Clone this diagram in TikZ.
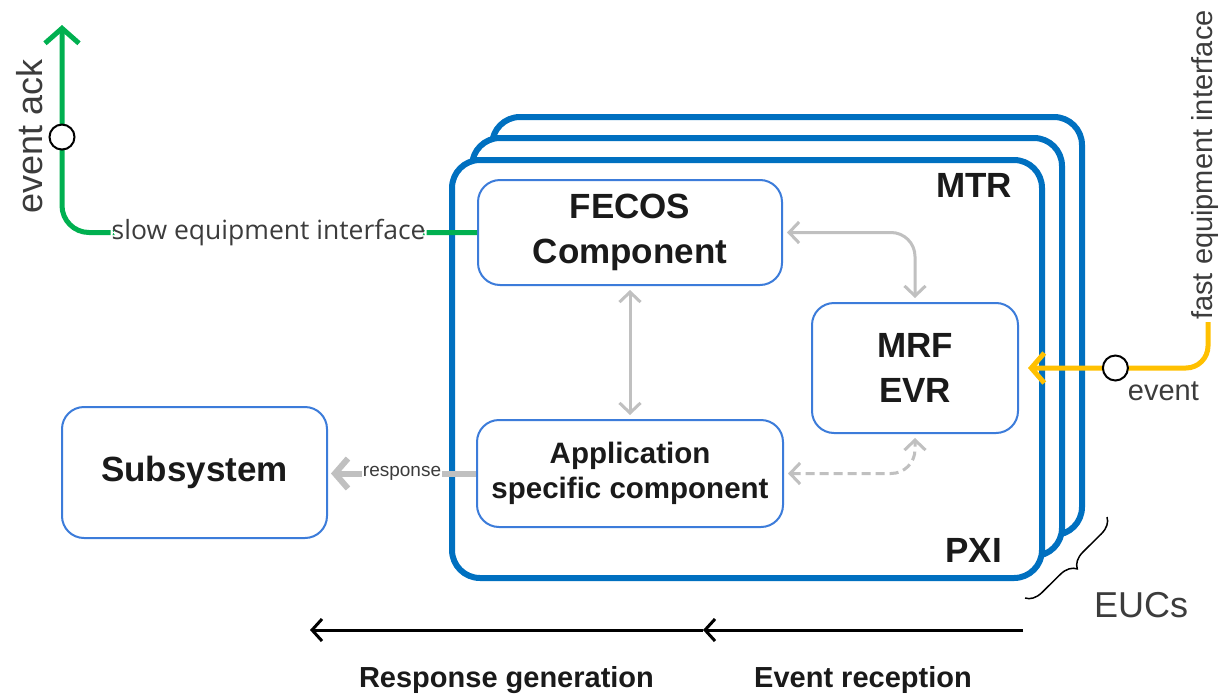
\documentclass[tikz,border=0pt]{standalone}
\usepackage{fontspec}
\setmainfont{Liberation Sans}
\newfontfamily\openfont{Open Sans}
\usetikzlibrary{arrows.meta,decorations.pathreplacing,calc}

\definecolor{eucblue}{RGB}{0,112,192}
\definecolor{compblue}{RGB}{60,124,218}
\definecolor{ackgreen}{RGB}{0,176,80}
\definecolor{evtgold}{RGB}{255,192,0}
\definecolor{linkgray}{RGB}{192,192,192}
\definecolor{ink}{RGB}{26,26,26}

\newcommand\compfont{\fontsize{35}{45}\selectfont\bfseries}
\newcommand\appfont{\fontsize{29.5}{35}\selectfont\bfseries}

\begin{document}
\begin{tikzpicture}[x=1pt,y=-1pt,
  euc/.style={draw=eucblue, line width=6pt, rounded corners=28pt, fill=white,
              minimum width=590pt, minimum height=418pt, inner sep=0pt},
  comp/.style={draw=compblue, line width=2pt, rounded corners=22pt, fill=white,
               inner sep=0pt, align=center, text=ink, font=\compfont},
  tag/.style={text=ink, font=\fontsize{35}{35}\selectfont\bfseries, inner sep=0pt},
  port/.style={circle, draw=black, line width=2pt, fill=white, minimum size=25pt, inner sep=0pt},
  ackline/.style={draw=ackgreen, line width=5pt, rounded corners=27pt,
                  -{Straight Barb[length=15pt,width=34pt]}},
  evtline/.style={draw=evtgold, line width=5pt, rounded corners=22pt,
                  -{Straight Barb[length=13pt,width=30pt]}, shorten >=9pt},
  link/.style={draw=linkgray, line width=3pt, rounded corners=24pt,
               {Straight Barb[length=10pt,width=21pt]}-{Straight Barb[length=10pt,width=21pt]},
               shorten <=4pt, shorten >=4pt},
  resp/.style={draw=linkgray, line width=6pt, -{Straight Barb[length=13pt,width=30pt]}, shorten >=3pt},
  flow/.style={draw=black, line width=3pt, -{Straight Barb[length=10pt,width=22pt]}},
  ifacelbl/.style={fill=white, inner xsep=1pt, inner ysep=2pt, text=ink!85,
                   font=\openfont\fontsize{26.5}{26.5}\selectfont},
  smalllbl/.style={text=ink!85, font=\fontsize{29}{29}\selectfont, inner sep=0pt},
  phase/.style={text=ink, font=\fontsize{29}{29}\selectfont\bfseries, inner sep=0pt},
  bracestyle/.style={draw=black, line width=1.5pt, decorate,
                     decoration={brace, amplitude=16pt}}
]
\useasboundingbox (0,0) rectangle (1220,696);

% stacked event units (PXI crates)
\node[euc] (euc3) at (787,326) {};
\node[euc] (euc2) at (767,347) {};
\node[euc] (euc1) at (747,369) {};
\node[tag, anchor=base east] (mtr) at (1012,197) {MTR};
\node[tag, anchor=base east] (pxi) at (1002,562) {PXI};

% components
\node[comp, minimum width=304pt, minimum height=105pt] (fecos) at (630,232.5) {FECOS\\Component};
\node[comp, minimum width=206pt, minimum height=130pt] (mrf) at (915,368) {MRF\\EVR};
\node[comp, minimum width=306pt, minimum height=107pt, font=\appfont] (app) at (630,473.5) {Application\\specific component};
\node[comp, minimum width=265pt, minimum height=131pt] (sub) at (194.5,472.5) {Subsystem};

% internal links
\draw[link] (fecos.east) -| (mrf.north);
\draw[link] (fecos.south) -- (app.north);
\draw[link, dash pattern=on 9pt off 5pt] (app.east) -| (mrf.south);

% response to the subsystem
\draw[resp] (app.west) -- (app.west -| sub.east)
  node[pos=0.5, fill=white, inner xsep=1pt, inner ysep=1pt, text=ink!85,
       font=\fontsize{19}{19}\selectfont] {response};

% slow equipment interface (event acknowledge)
\coordinate (ackend) at (62,25);
\draw[ackline] (fecos.west) -| (ackend)
  node[pos=0.251, ifacelbl] {slow equipment interface}
  node[pos=0.73, port] (ackport) {};
\node[smalllbl, font=\fontsize{36}{36}\selectfont, rotate=90, anchor=base] (acklbl) at (42,136) {event ack};

% fast equipment interface (event input)
\coordinate (evtstart) at (1208,322);
\draw[evtline] (evtstart) |- (mrf.east)
  node[pos=0.745, port] (evtport) {};
\node[smalllbl] (evtlbl) at ($(evtport)+(48,23)$) {event};
\node[smalllbl, rotate=90, anchor=base] (fastlbl) at (1212,165) {fast equipment interface};

% EUC brace
\coordinate (braceA) at (1107,517);
\coordinate (braceB) at (1025,598);
\draw[bracestyle] (braceA) -- (braceB);
\node[smalllbl, font=\fontsize{36}{36}\selectfont] (eucs) at (1141,605) {EUCs};

% processing timeline
\coordinate (tA) at (1023,630);
\coordinate (tB) at (703,630);
\coordinate (tC) at (310,630);
\draw[flow] (tA) -- (tB);
\draw[flow] (tB) -- (tC);
\node[phase] (evrec) at ($(tA)!0.5!(tB)+(0,50)$) {Event reception};
\node[phase] (rspgen) at ($(tB)!0.5!(tC)+(0,50)$) {Response generation};
\end{tikzpicture}
\end{document}
